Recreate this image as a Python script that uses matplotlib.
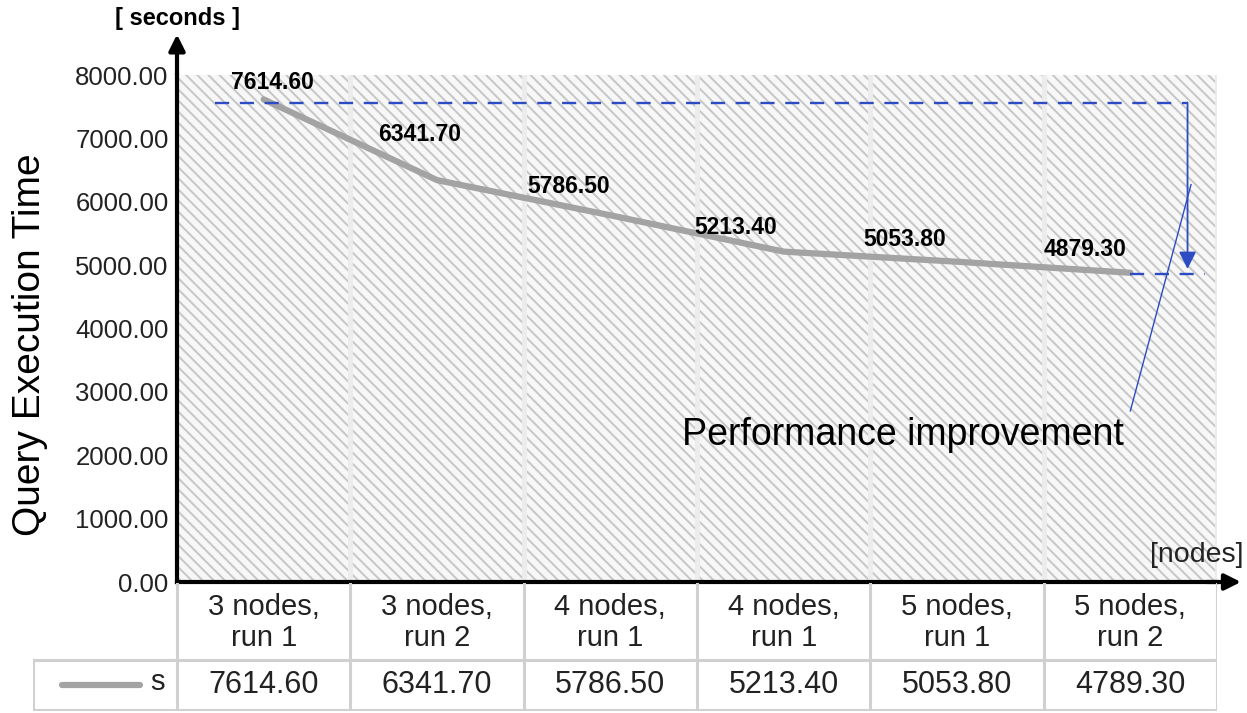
import matplotlib
import numpy as np
from matplotlib import pyplot as plt
from matplotlib.patches import Rectangle
from matplotlib.ticker import FormatStrFormatter

matplotlib.use("Agg")
matplotlib.rcParams["font.family"] = ["Liberation Sans", "DejaVu Sans"]
matplotlib.rcParams["hatch.linewidth"] = 1.4

# data
categories = ["3 nodes,\nrun 1", "3 nodes,\nrun 2", "4 nodes,\nrun 1",
              "4 nodes,\nrun 1", "5 nodes,\nrun 1", "5 nodes,\nrun 2"]
values = [7614.60, 6341.70, 5786.50, 5213.40, 5053.80, 4879.30]
table_values = ["7614.60", "6341.70", "5786.50", "5213.40", "5053.80", "4789.30"]
series_name = "s"
y_ticks = [0, 1000, 2000, 3000, 4000, 5000, 6000, 7000, 8000]

# label offsets in pixels (dx, dy)
label_offsets = [(9, 17), (-17, 46), (-42, 29), (-48, 24), (-52, 22), (-45, 23)]

W, H = 1247, 713
fig = plt.figure(figsize=(W / 100, H / 100), dpi=100)
ax = fig.add_axes([177 / W, 1 - 582 / H, 1040 / W, 507 / H])
ax.patch.set_alpha(0)

x = np.arange(len(categories))
ax.set_xlim(-0.5, len(categories) - 0.5)
ax.set_ylim(0, 8000)

# hatched background
bg = Rectangle((0, 0), 1, 1, transform=ax.transAxes, facecolor="#f7f7f7",
               edgecolor="#c6c6c6", hatch="\\\\\\", linewidth=0, zorder=0)
ax.add_patch(bg)
for b in np.arange(0.5, len(categories) + 0.5, 1):
    ax.axvline(b, color="#ececec", lw=3.5, zorder=0.5)

# the series
ax.plot(x, values, color="#a3a3a3", lw=4.5, solid_capstyle="round",
        solid_joinstyle="round", zorder=3)
for xi, v, (dx, dy) in zip(x, values, label_offsets):
    ax.annotate(f"{v:.2f}", (xi, v), xytext=(dx, dy), textcoords="offset pixels",
                ha="center", va="center", fontsize=16.5, fontweight="bold", zorder=5)

# performance improvement marker
blue = "#2d4cc4"
x_arrow = len(categories) - 1 + 0.33
ax.plot([-0.28, x_arrow], [values[0] - 50, values[0] - 50], color=blue, lw=1.7,
        dashes=(6, 4.5), zorder=4)
ax.plot([x[-1], x[-1] + 0.43], [values[-1] - 20, values[-1] - 20], color=blue,
        lw=1.7, dashes=(6, 4.5), zorder=4)
ax.annotate("", xy=(x_arrow, values[-1] + 60), xytext=(x_arrow, values[0] - 50),
            arrowprops=dict(arrowstyle="-|>", color=blue, lw=1.3,
                            mutation_scale=26, shrinkA=0, shrinkB=0), zorder=4)
ax.plot([x[-1], x_arrow + 0.02], [2700, 6270], color=blue, lw=1.0, zorder=4)
ax.text(3.69, 2320, "Performance improvement", ha="center", va="center",
        fontsize=27, zorder=5)

# axes styling
for s in ["top", "right"]:
    ax.spines[s].set_visible(False)
for s in ["left", "bottom"]:
    ax.spines[s].set_linewidth(3)
    ax.spines[s].set_zorder(6)
ax.set_yticks(y_ticks)
ax.yaxis.set_major_formatter(FormatStrFormatter("%.2f"))
ax.tick_params(axis="y", length=0, pad=6, labelsize=18.5, labelcolor="#222222")
ax.set_xticks([])
ax.annotate("", xy=(0, 1.08), xytext=(0, 1.0), xycoords="axes fraction",
            arrowprops=dict(arrowstyle="-|>", color="black", lw=3,
                            mutation_scale=24, shrinkA=0, shrinkB=0))
ax.annotate("", xy=(1.023, 0), xytext=(0.99, 0), xycoords="axes fraction",
            arrowprops=dict(arrowstyle="-|>", color="black", lw=3,
                            mutation_scale=24, shrinkA=0, shrinkB=0))
ax.text(0.0, 1.112, "[ seconds ]", transform=ax.transAxes, ha="center",
        va="center", fontsize=17, fontweight="bold")
ax.text(1.025, 0.053, "[nodes]", transform=ax.transAxes, ha="right",
        va="center", fontsize=20.5, color="#222222")
fig.text(30 / W, 1 - 345 / H, "Query Execution Time", rotation=90,
         ha="center", va="center", fontsize=28)

# data table below the chart
tab = fig.add_axes([33 / W, 1 - 711 / H, (1217 - 33) / W, 128 / H])
tab.axis("off")
left = -0.5 - 144 / 173.33
tab.set_xlim(left, len(categories) - 0.5)
tab.set_ylim(2.56, 0)
grid = "#d0d0d0"
hdr, bot = 1.54, 2.54
for b in np.arange(-0.5, len(categories), 1):
    tab.plot([b, b], [0, bot], color=grid, lw=2.2)
tab.plot([left, left], [hdr, bot], color=grid, lw=2.2)
tab.plot([left, len(categories) - 0.5], [hdr, hdr], color=grid, lw=2.2)
tab.plot([left, len(categories) - 0.5], [bot, bot], color=grid, lw=2.2)
for xi, c, tv in zip(x, categories, table_values):
    tab.text(xi, hdr / 2 + 0.02, c, ha="center", va="center", fontsize=21,
             linespacing=1.12, color="#222222")
    tab.text(xi, (hdr + bot) / 2, tv, ha="center", va="center", fontsize=22,
             color="#222222")
tab.plot([-1.163, -0.713], [(hdr + bot) / 2] * 2, color="#a3a3a3", lw=4.5,
         solid_capstyle="round")
tab.text(-0.615, (hdr + bot) / 2 - 0.06, series_name, ha="center", va="center",
         fontsize=21, color="#222222")

fig.savefig("out.png", dpi=100)
